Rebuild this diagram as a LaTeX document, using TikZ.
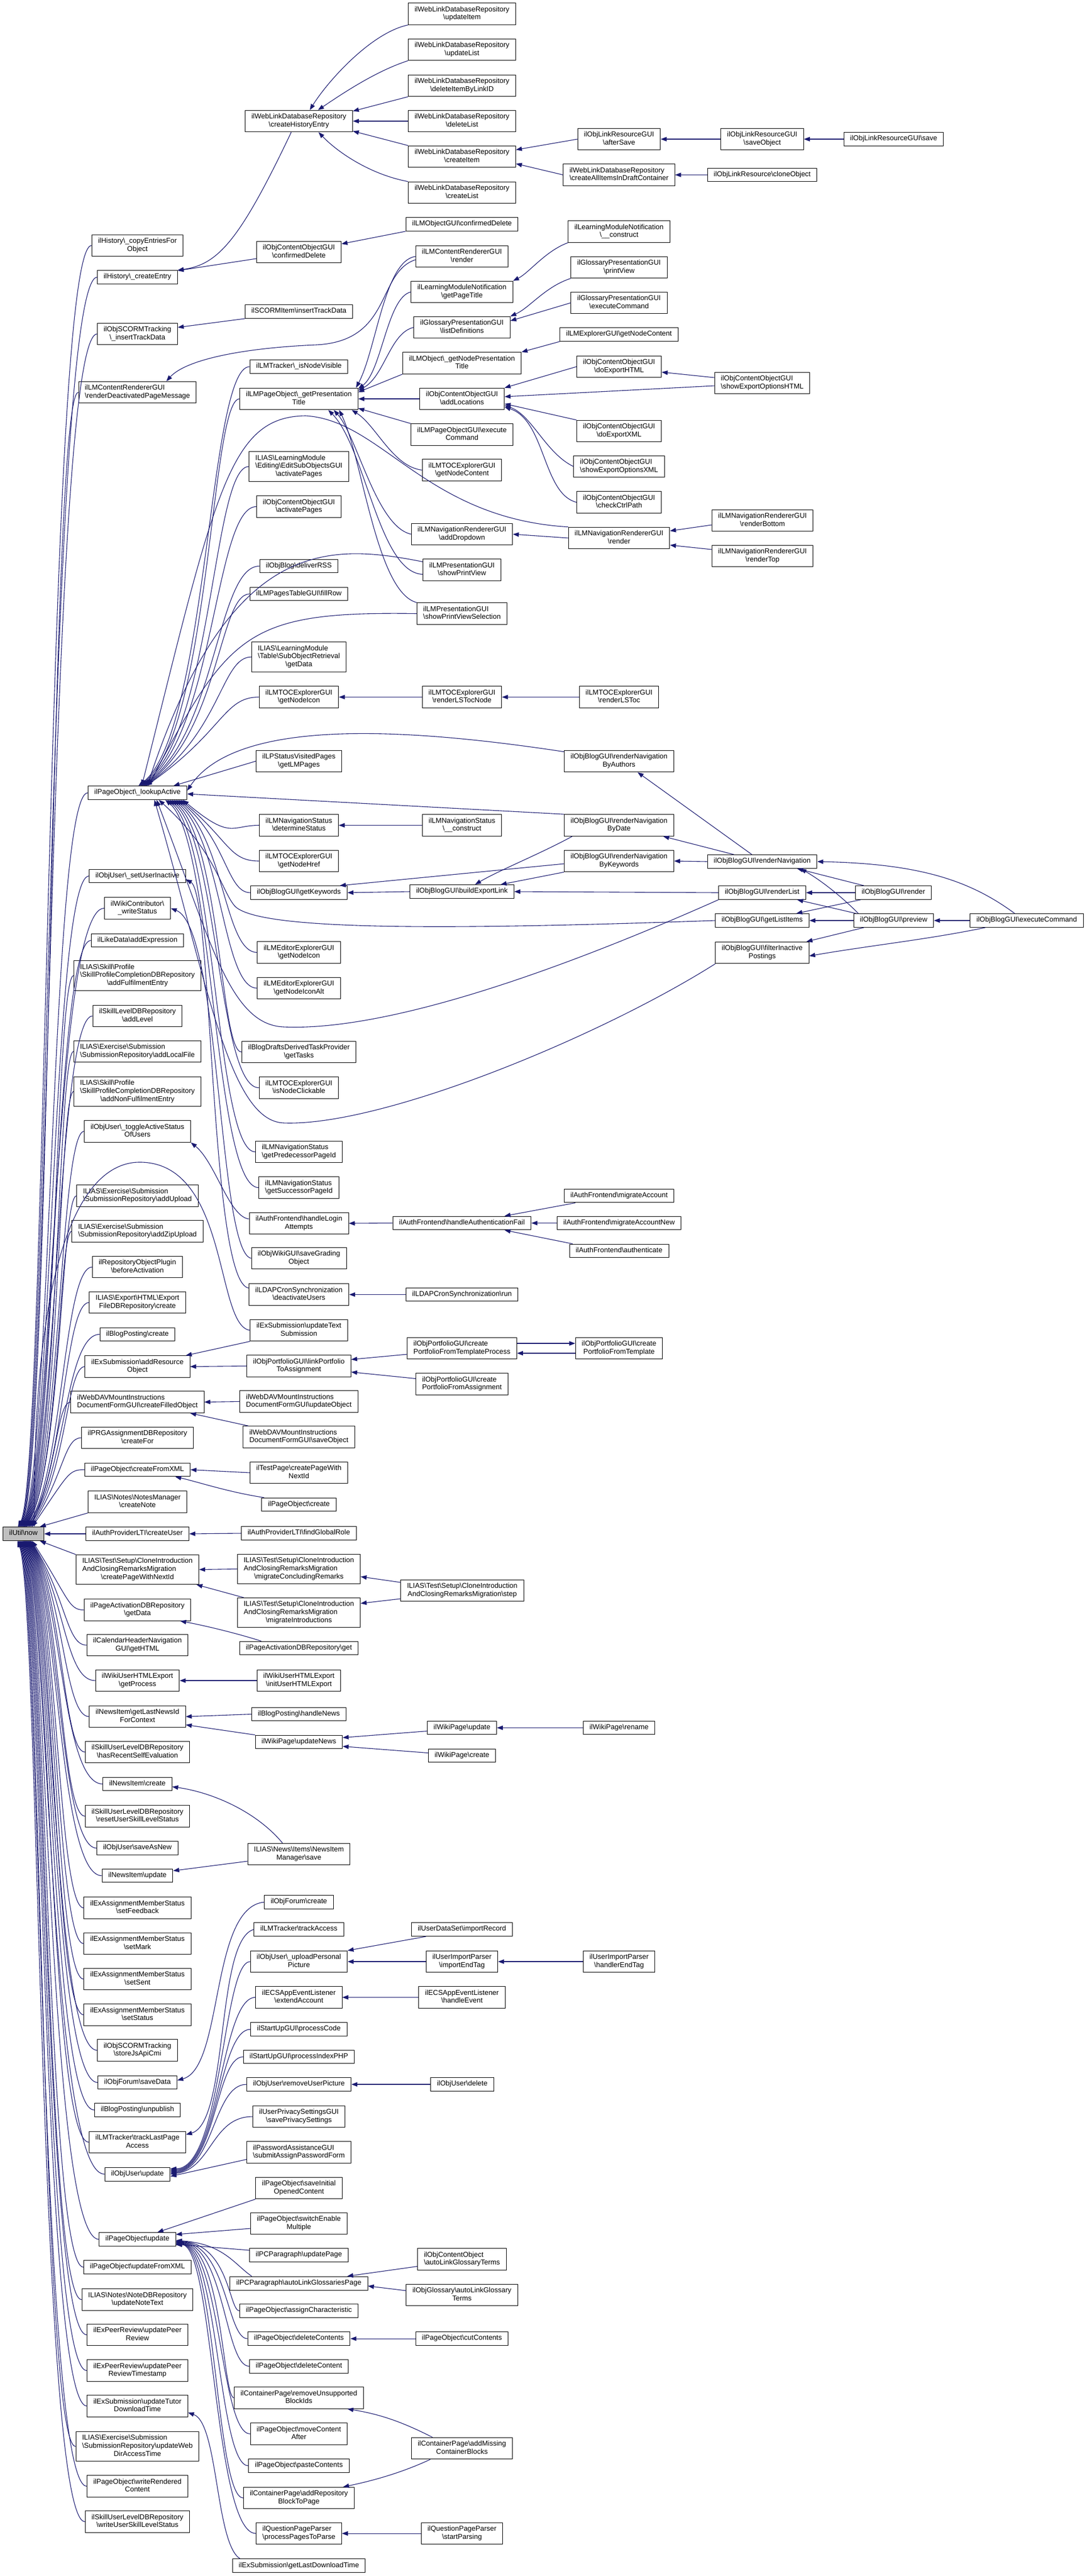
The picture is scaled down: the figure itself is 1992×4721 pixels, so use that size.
\documentclass[tikz,border=0pt]{standalone}
\usepackage{fontspec}
\setmainfont{Liberation Sans}
\usetikzlibrary{arrows.meta,calc}
\definecolor{edgeblue}{RGB}{25,25,112}
\newcommand{\bs}{\textbackslash}
\newcommand{\nm}[1]{\begin{tabular}{@{}c@{}}#1\end{tabular}}
\newcommand{\nml}[2]{\begin{tabular}{@{}l@{}}#1\\\multicolumn{1}{@{}c@{}}{#2}\end{tabular}}

\begin{document}
\begin{tikzpicture}[x=1pt,y=-1pt,>={Triangle[length=11pt,width=8pt]}]
    \tikzset{func/.style={draw=black,fill=white,line width=1pt,inner xsep=11.5pt,inner ysep=5.1pt,font=\fontsize{13}{14.7}\selectfont}}
    \tikzset{focus/.style={func,fill=black!25}}
    \tikzset{call/.style={draw=edgeblue,line width=1.1pt,->}}
    \useasboundingbox (0,0) rectangle (1992,4721);

    % WebLink repository (top)
    \node[func] (updateitem) at (847,25.5) {\nml{ilWebLinkDatabaseRepository}{\bs updateItem}};
    \node[func] (updatelist) at (847,91) {\nml{ilWebLinkDatabaseRepository}{\bs updateList}};
    \node[func] (delbylink) at (847,157) {\nml{ilWebLinkDatabaseRepository}{\bs deleteItemByLinkID}};
    \node[func] (dellist) at (847,222) {\nml{ilWebLinkDatabaseRepository}{\bs deleteList}};
    \node[func] (createitem) at (847,287) {\nml{ilWebLinkDatabaseRepository}{\bs createItem}};
    \node[func] (createlist) at (847,353) {\nml{ilWebLinkDatabaseRepository}{\bs createList}};
    \node[func] (histentry) at (548,222) {\nml{ilWebLinkDatabaseRepository}{\bs createHistoryEntry}};
    \node[func] (aftersave) at (1135,255) {\nml{ilObjLinkResourceGUI}{\bs afterSave}};
    \node[func] (draftitems) at (1135,320.5) {\nml{ilWebLinkDatabaseRepository}{\bs createAllItemsInDraftContainer}};
    \node[func] (saveobj) at (1397.5,255) {\nml{ilObjLinkResourceGUI}{\bs saveObject}};
    \node[func] (cloneobj) at (1397.5,320.5) {\nm{ilObjLinkResource\bs cloneObject}};
    \node[func] (lrsave) at (1638.5,255) {\nm{ilObjLinkResourceGUI\bs save}};

    % History and SCORM
    \node[func] (hcopy) at (252,450) {\nml{ilHistory\bs\_copyEntriesFor}{Object}};
    \node[func] (hentry) at (252,508) {\nm{ilHistory\bs\_createEntry}};
    \node[func] (cocdel) at (548,462) {\nml{ilObjContentObjectGUI}{\bs confirmedDelete}};
    \node[func] (lmodel) at (847,411) {\nm{ilLMObjectGUI\bs confirmedDelete}};
    \node[func] (scormins) at (252,612) {\nml{ilObjSCORMTracking}{\bs\_insertTrackData}};
    \node[func] (scormitem) at (548,571) {\nm{ilSCORMItem\bs insertTrackData}};

    % Presentation titles
    \node[func] (deact) at (252,719) {\nml{ilLMContentRendererGUI}{\bs renderDeactivatedPageMessage}};
    \node[func] (nodevis) at (548,672) {\nm{ilLMTracker\bs\_isNodeVisible}};
    \node[func] (prestitle) at (548,731) {\nml{ilLMPageObject\bs\_getPresentation}{Title}};
    \node[func] (lmrender) at (847,470) {\nml{ilLMContentRendererGUI}{\bs render}};
    \node[func] (pagetitle) at (847,535) {\nml{ilLearningModuleNotification}{\bs getPageTitle}};
    \node[func] (listdefs) at (847,600) {\nml{ilGlossaryPresentationGUI}{\bs listDefinitions}};
    \node[func] (nodetitle) at (847,665.5) {\nml{ilLMObject\bs\_getNodePresentation}{Title}};
    \node[func] (addloc) at (847,731) {\nml{ilObjContentObjectGUI}{\bs addLocations}};
    \node[func] (pgexec) at (847,796.5) {\nml{ilLMPageObjectGUI\bs execute}{Command}};
    \node[func] (tocnode) at (847,861.5) {\nml{ilLMTOCExplorerGUI}{\bs getNodeContent}};
    \node[func] (dropdown) at (847,979) {\nml{ilLMNavigationRendererGUI}{\bs addDropdown}};
    \node[func] (printview) at (847,1044.5) {\nml{ilLMPresentationGUI}{\bs showPrintView}};
    \node[func] (printsel) at (847,1124.5) {\nml{ilLMPresentationGUI}{\bs showPrintViewSelection}};
    \node[func] (notifcons) at (1135,424.5) {\nml{ilLearningModuleNotification}{\bs\_\_construct}};
    \node[func] (printgloss) at (1135,490) {\nml{ilGlossaryPresentationGUI}{\bs printView}};
    \node[func] (glossexec) at (1135,555) {\nml{ilGlossaryPresentationGUI}{\bs executeCommand}};
    \node[func] (explcontent) at (1135,613) {\nm{ilLMExplorerGUI\bs getNodeContent}};
    \node[func] (exphtml) at (1135,672) {\nml{ilObjContentObjectGUI}{\bs doExportHTML}};
    \node[func] (expxml) at (1135,790) {\nml{ilObjContentObjectGUI}{\bs doExportXML}};
    \node[func] (optxml) at (1135,855) {\nml{ilObjContentObjectGUI}{\bs showExportOptionsXML}};
    \node[func] (ctrlpath) at (1135,920.5) {\nml{ilObjContentObjectGUI}{\bs checkCtrlPath}};
    \node[func] (navrender) at (1135,986) {\nml{ilLMNavigationRendererGUI}{\bs render}};
    \node[func] (opthtml) at (1397.5,702) {\nml{ilObjContentObjectGUI}{\bs showExportOptionsHTML}};
    \node[func] (renderbottom) at (1398,954) {\nml{ilLMNavigationRendererGUI}{\bs renderBottom}};
    \node[func] (rendertop) at (1398,1019) {\nml{ilLMNavigationRendererGUI}{\bs renderTop}};

    % lookupActive and its callers
    \node[func] (lookup) at (252,1453) {\nm{ilPageObject\bs\_lookupActive}};
    \node[func] (editact) at (548,855) {\nml{ILIAS\bs LearningModule\\\bs Editing\bs EditSubObjectsGUI}{\bs activatePages}};
    \node[func] (cocact) at (548,928.5) {\nml{ilObjContentObjectGUI}{\bs activatePages}};
    \node[func] (rss) at (548,1037.5) {\nm{ilObjBlog\bs deliverRSS}};
    \node[func] (fillrow) at (548,1088.5) {\nm{ilLMPagesTableGUI\bs fillRow}};
    \node[func] (subdata) at (548,1204) {\nml{ILIAS\bs LearningModule\\\bs Table\bs SubObjectRetrieval}{\bs getData}};
    \node[func] (tocicon) at (548,1277.5) {\nml{ilLMTOCExplorerGUI}{\bs getNodeIcon}};
    \node[func] (lstocnode) at (847,1277.5) {\nml{ilLMTOCExplorerGUI}{\bs renderLSTocNode}};
    \node[func] (lstoc) at (1135,1277.5) {\nml{ilLMTOCExplorerGUI}{\bs renderLSToc}};
    \node[func] (lmpages) at (548,1395) {\nml{ilLPStatusVisitedPages}{\bs getLMPages}};
    \node[func] (detstatus) at (548,1512.5) {\nml{ilLMNavigationStatus}{\bs determineStatus}};
    \node[func] (navcons) at (847,1512.5) {\nml{ilLMNavigationStatus}{\bs\_\_construct}};
    \node[func] (nodehref) at (548,1578) {\nml{ilLMTOCExplorerGUI}{\bs getNodeHref}};
    \node[func] (keywords) at (548,1636) {\nm{ilObjBlogGUI\bs getKeywords}};
    \node[func] (exportlink) at (847,1634) {\nm{ilObjBlogGUI\bs buildExportLink}};
    \node[func] (edicon) at (548,1745.5) {\nml{ilLMEditorExplorerGUI}{\bs getNodeIcon}};
    \node[func] (ediconalt) at (548,1811) {\nml{ilLMEditorExplorerGUI}{\bs getNodeIconAlt}};
    \node[func] (gettasks) at (548,1928) {\nml{ilBlogDraftsDerivedTaskProvider}{\bs getTasks}};
    \node[func] (clickable) at (548,1993.5) {\nml{ilLMTOCExplorerGUI}{\bs isNodeClickable}};
    \node[func] (predid) at (548,2111) {\nml{ilLMNavigationStatus}{\bs getPredecessorPageId}};
    \node[func] (succid) at (548,2176.5) {\nml{ilLMNavigationStatus}{\bs getSuccessorPageId}};

    % Blog
    \node[func] (byauthors) at (1135,1395) {\nml{ilObjBlogGUI\bs renderNavigation}{ByAuthors}};
    \node[func] (bydate) at (1135,1512.5) {\nml{ilObjBlogGUI\bs renderNavigation}{ByDate}};
    \node[func] (bykeywords) at (1135,1578) {\nml{ilObjBlogGUI\bs renderNavigation}{ByKeywords}};
    \node[func] (blognav) at (1397.5,1579) {\nm{ilObjBlogGUI\bs renderNavigation}};
    \node[func] (renderlist) at (1397.5,1636) {\nm{ilObjBlogGUI\bs renderList}};
    \node[func] (listitems) at (1397.5,1687) {\nm{ilObjBlogGUI\bs getListItems}};
    \node[func] (filterinact) at (1397.5,1746) {\nml{ilObjBlogGUI\bs filterInactive}{Postings}};
    \node[func] (blogrender) at (1638,1636) {\nm{ilObjBlogGUI\bs render}};
    \node[func] (preview) at (1638.5,1687) {\nm{ilObjBlogGUI\bs preview}};
    \node[func] (blogexec) at (1882.5,1687) {\nm{ilObjBlogGUI\bs executeCommand}};

    % Users, skills, exercise
    \node[func] (setinact) at (252,1605.5) {\nm{ilObjUser\bs\_setUserInactive}};
    \node[func] (wstatus) at (252,1664.5) {\nml{ilWikiContributor\bs}{\_writeStatus}};
    \node[func] (likeexp) at (252,1723.5) {\nm{ilLikeData\bs addExpression}};
    \node[func] (fulfil) at (252,1788) {\nml{ILIAS\bs Skill\bs Profile\\\bs SkillProfileCompletionDBRepository}{\bs addFulfilmentEntry}};
    \node[func] (addlevel) at (252,1862) {\nml{ilSkillLevelDBRepository}{\bs addLevel}};
    \node[func] (addlocal) at (252,1927) {\nml{ILIAS\bs Exercise\bs Submission}{\bs SubmissionRepository\bs addLocalFile}};
    \node[func] (nonfulfil) at (252,2000.5) {\nml{ILIAS\bs Skill\bs Profile\\\bs SkillProfileCompletionDBRepository}{\bs addNonFulfilmentEntry}};
    \node[func] (toggle) at (252,2073.5) {\nml{ilObjUser\bs\_toggleActiveStatus}{OfUsers}};
    \node[func] (addupload) at (252,2191.5) {\nml{ILIAS\bs Exercise\bs Submission}{\bs SubmissionRepository\bs addUpload}};
    \node[func] (addzip) at (252,2256.5) {\nml{ILIAS\bs Exercise\bs Submission}{\bs SubmissionRepository\bs addZipUpload}};
    \node[func] (loginatt) at (548,2242) {\nml{ilAuthFrontend\bs handleLogin}{Attempts}};
    \node[func] (authfail) at (847,2241.5) {\nm{ilAuthFrontend\bs handleAuthenticationFail}};
    \node[func] (migacc) at (1135,2191.5) {\nm{ilAuthFrontend\bs migrateAccount}};
    \node[func] (migaccnew) at (1135,2241.5) {\nm{ilAuthFrontend\bs migrateAccountNew}};
    \node[func] (authn) at (1135,2292.5) {\nm{ilAuthFrontend\bs authenticate}};
    \node[func] (grading) at (548,2306) {\nml{ilObjWikiGUI\bs saveGrading}{Object}};
    \node[func] (beforeact) at (252,2322) {\nml{ilRepositoryObjectPlugin}{\bs beforeActivation}};
    \node[func] (deactusers) at (548,2372.5) {\nml{ilLDAPCronSynchronization}{\bs deactivateUsers}};
    \node[func] (ldaprun) at (847,2372.5) {\nm{ilLDAPCronSynchronization\bs run}};
    \node[func] (expcreate) at (252,2387) {\nml{ILIAS\bs Export\bs HTML\bs Export}{FileDBRepository\bs create}};
    \node[func] (bpcreate) at (252,2445.5) {\nm{ilBlogPosting\bs create}};
    \node[func] (textsub) at (548,2438) {\nml{ilExSubmission\bs updateText}{Submission}};
    \node[func] (addres) at (252,2504.5) {\nml{ilExSubmission\bs addResource}{Object}};
    \node[func] (linkport) at (548,2503.5) {\nml{ilObjPortfolioGUI\bs linkPortfolio}{ToAssignment}};
    \node[func] (tplproc) at (847,2471) {\nml{ilObjPortfolioGUI\bs create}{PortfolioFromTemplateProcess}};
    \node[func] (fromassign) at (847,2536.5) {\nml{ilObjPortfolioGUI\bs create}{PortfolioFromAssignment}};
    \node[func] (fromtpl) at (1135,2471) {\nml{ilObjPortfolioGUI\bs create}{PortfolioFromTemplate}};
    \node[func] (filled) at (252,2569.5) {\nml{ilWebDAVMountInstructions}{DocumentFormGUI\bs createFilledObject}};
    \node[func] (davupdate) at (548,2568.5) {\nml{ilWebDAVMountInstructions}{DocumentFormGUI\bs updateObject}};
    \node[func] (davsave) at (548,2633.5) {\nml{ilWebDAVMountInstructions}{DocumentFormGUI\bs saveObject}};
    \node[func] (createfor) at (252,2635) {\nml{ilPRGAssignmentDBRepository}{\bs createFor}};
    \node[func] (fromxml) at (252,2693.5) {\nm{ilPageObject\bs createFromXML}};
    \node[func] (testpage) at (548,2699) {\nml{ilTestPage\bs createPageWith}{NextId}};
    \node[func] (createnote) at (252,2752.5) {\nml{ILIAS\bs Notes\bs NotesManager}{\bs createNote}};
    \node[func] (pocreate) at (548,2757.5) {\nm{ilPageObject\bs create}};

    % The function itself
    \node[focus] (now) at (43,2811) {\nm{ilUtil\bs now}};

    \node[func] (ltiuser) at (252,2811) {\nm{ilAuthProviderLTI\bs createUser}};
    \node[func] (findrole) at (548,2810) {\nm{ilAuthProviderLTI\bs findGlobalRole}};
    \node[func] (clonepage) at (252,2876.5) {\nml{ILIAS\bs Test\bs Setup\bs CloneIntroduction\\AndClosingRemarksMigration}{\bs createPageWithNextId}};
    \node[func] (migconc) at (548,2875.5) {\nml{ILIAS\bs Test\bs Setup\bs CloneIntroduction\\AndClosingRemarksMigration}{\bs migrateConcludingRemarks}};
    \node[func] (migintro) at (548,2955.5) {\nml{ILIAS\bs Test\bs Setup\bs CloneIntroduction\\AndClosingRemarksMigration}{\bs migrateIntroductions}};
    \node[func] (stepmig) at (847.5,2915) {\nml{ILIAS\bs Test\bs Setup\bs CloneIntroduction}{AndClosingRemarksMigration\bs step}};
    \node[func] (pagdata) at (252,2950.5) {\nml{ilPageActivationDBRepository}{\bs getData}};
    \node[func] (pagget) at (548,3020.5) {\nm{ilPageActivationDBRepository\bs get}};
    \node[func] (calhtml) at (252,3015) {\nml{ilCalendarHeaderNavigation}{GUI\bs getHTML}};
    \node[func] (wikiproc) at (252,3080) {\nml{ilWikiUserHTMLExport}{\bs getProcess}};
    \node[func] (inithtml) at (548,3080) {\nml{ilWikiUserHTMLExport}{\bs initUserHTMLExport}};

    % News and wiki
    \node[func] (newsids) at (252,3146) {\nml{ilNewsItem\bs getLastNewsId}{ForContext}};
    \node[func] (handlenews) at (548,3141.5) {\nm{ilBlogPosting\bs handleNews}};
    \node[func] (updnews) at (548,3192.5) {\nm{ilWikiPage\bs updateNews}};
    \node[func] (wupdate) at (847,3166.5) {\nm{ilWikiPage\bs update}};
    \node[func] (wcreate) at (847,3217.5) {\nm{ilWikiPage\bs create}};
    \node[func] (wrename) at (1135,3166.5) {\nm{ilWikiPage\bs rename}};
    \node[func] (recentself) at (252,3211) {\nml{ilSkillUserLevelDBRepository}{\bs hasRecentSelfEvaluation}};
    \node[func] (newscreate) at (252,3269.5) {\nm{ilNewsItem\bs create}};
    \node[func] (resetlevel) at (252,3328.5) {\nml{ilSkillUserLevelDBRepository}{\bs resetUserSkillLevelStatus}};
    \node[func] (usersave) at (252,3387) {\nm{ilObjUser\bs saveAsNew}};
    \node[func] (nmsave) at (548,3398) {\nml{ILIAS\bs News\bs Items\bs NewsItem}{Manager\bs save}};
    \node[func] (newsupdate) at (252,3437.5) {\nm{ilNewsItem\bs update}};
    \node[func] (setfeedback) at (252,3496.5) {\nml{ilExAssignmentMemberStatus}{\bs setFeedback}};
    \node[func] (setmark) at (252,3562) {\nml{ilExAssignmentMemberStatus}{\bs setMark}};
    \node[func] (setsent) at (252,3627) {\nml{ilExAssignmentMemberStatus}{\bs setSent}};
    \node[func] (setstatus) at (252,3692.5) {\nml{ilExAssignmentMemberStatus}{\bs setStatus}};
    \node[func] (storecmi) at (252,3757.5) {\nml{ilObjSCORMTracking}{\bs storeJsApiCmi}};
    \node[func] (forumsave) at (252,3816.5) {\nm{ilObjForum\bs saveData}};
    \node[func] (unpublish) at (252,3867) {\nm{ilBlogPosting\bs unpublish}};
    \node[func] (tracklast) at (252,3926) {\nml{ilLMTracker\bs trackLastPage}{Access}};
    \node[func] (userupdate) at (252,3984.5) {\nm{ilObjUser\bs update}};
    \node[func] (forumcreate) at (548,3486) {\nm{ilObjForum\bs create}};
    \node[func] (trackacc) at (548,3536) {\nm{ilLMTracker\bs trackAccess}};
    \node[func] (importrec) at (847,3536) {\nm{ilUserDataSet\bs importRecord}};
    \node[func] (uploadpic) at (548,3595) {\nml{ilObjUser\bs\_uploadPersonal}{Picture}};
    \node[func] (importend) at (847,3595) {\nml{ilUserImportParser}{\bs importEndTag}};
    \node[func] (handlerend) at (1135,3595) {\nml{ilUserImportParser}{\bs handlerEndTag}};
    \node[func] (extacc) at (548,3660.5) {\nml{ilECSAppEventListener}{\bs extendAccount}};
    \node[func] (ecsevent) at (847,3660.5) {\nml{ilECSAppEventListener}{\bs handleEvent}};
    \node[func] (proccode) at (548,3719) {\nm{ilStartUpGUI\bs processCode}};
    \node[func] (procindex) at (548,3769.5) {\nm{ilStartUpGUI\bs processIndexPHP}};
    \node[func] (rmpic) at (548,3820) {\nm{ilObjUser\bs removeUserPicture}};
    \node[func] (userdel) at (847.5,3820) {\nm{ilObjUser\bs delete}};
    \node[func] (privacy) at (548,3879) {\nml{ilUserPrivacySettingsGUI}{\bs savePrivacySettings}};
    \node[func] (passwd) at (548,3944.5) {\nml{ilPasswordAssistanceGUI}{\bs submitAssignPasswordForm}};

    % Page object update (bottom)
    \node[func] (pageupdate) at (252,4104) {\nm{ilPageObject\bs update}};
    \node[func] (fromxmlup) at (252,4155) {\nm{ilPageObject\bs updateFromXML}};
    \node[func] (notetext) at (252,4214.5) {\nml{ILIAS\bs Notes\bs NoteDBRepository}{\bs updateNoteText}};
    \node[func] (peerrev) at (252,4279) {\nml{ilExPeerReview\bs updatePeer}{Review}};
    \node[func] (peerts) at (252,4344.5) {\nml{ilExPeerReview\bs updatePeer}{ReviewTimestamp}};
    \node[func] (tutordl) at (252,4409.5) {\nml{ilExSubmission\bs updateTutor}{DownloadTime}};
    \node[func] (webdav) at (252,4483.5) {\nml{ILIAS\bs Exercise\bs Submission\\\bs SubmissionRepository\bs updateWeb}{DirAccessTime}};
    \node[func] (rendered) at (252,4556.5) {\nml{ilPageObject\bs writeRendered}{Content}};
    \node[func] (writelevel) at (252,4621.5) {\nml{ilSkillUserLevelDBRepository}{\bs writeUserSkillLevelStatus}};
    \node[func] (initcont) at (548,4010) {\nml{ilPageObject\bs saveInitial}{OpenedContent}};
    \node[func] (switchmul) at (548,4075) {\nml{ilPageObject\bs switchEnable}{Multiple}};
    \node[func] (pcupdate) at (548,4133) {\nm{ilPCParagraph\bs updatePage}};
    \node[func] (autolink) at (548,4184.5) {\nm{ilPCParagraph\bs autoLinkGlossariesPage}};
    \node[func] (assignchar) at (548,4235) {\nm{ilPageObject\bs assignCharacteristic}};
    \node[func] (delconts) at (548,4286) {\nm{ilPageObject\bs deleteContents}};
    \node[func] (delcont) at (548,4336.5) {\nm{ilPageObject\bs deleteContent}};
    \node[func] (rmblocks) at (548,4394.5) {\nml{ilContainerPage\bs removeUnsupported}{BlockIds}};
    \node[func] (movecont) at (548,4460.5) {\nml{ilPageObject\bs moveContent}{After}};
    \node[func] (paste) at (548,4519) {\nm{ilPageObject\bs pasteContents}};
    \node[func] (addrepo) at (548,4578) {\nml{ilContainerPage\bs addRepository}{BlockToPage}};
    \node[func] (procpages) at (548,4643) {\nml{ilQuestionPageParser}{\bs processPagesToParse}};
    \node[func] (lastdl) at (548,4702) {\nm{ilExSubmission\bs getLastDownloadTime}};
    \node[func] (linkterms) at (847,4140.5) {\nml{ilObjContentObject}{\bs autoLinkGlossaryTerms}};
    \node[func] (glossterms) at (847,4206) {\nml{ilObjGlossary\bs autoLinkGlossary}{Terms}};
    \node[func] (cutconts) at (847,4286) {\nm{ilPageObject\bs cutContents}};
    \node[func] (addmissing) at (847,4487) {\nml{ilContainerPage\bs addMissing}{ContainerBlocks}};
    \node[func] (startparse) at (847,4643) {\nml{ilQuestionPageParser}{\bs startParsing}};

    % Calls into ilUtil\now
    \foreach \s/\xv/\tx in {hcopy/86/-10, hentry/88/-9, scormins/90/-8, deact/92/-7, lookup/94/-6, setinact/96/-5, wstatus/98/-4, likeexp/100/-3, fulfil/102/-2, addlevel/104/-1, addlocal/106/0, nonfulfil/108/1, toggle/110/2, addupload/112/3, addzip/108/4, beforeact/116/5, expcreate/118/6, bpcreate/120/8, addres/122/10, filled/104/12, createfor/118/14, fromxml/126/16}
      \draw[call] (\s.west) .. controls (\s.west -| \xv,0) and (\xv,2700) .. ([xshift=\tx]now.north);
    \foreach \s/\xv/\tx in {pagdata/126/16, calhtml/122/14, wikiproc/120/13, newsids/118/12, recentself/116/11, newscreate/114/10, resetlevel/112/9, usersave/110/8, newsupdate/108/7, setfeedback/106/6, setmark/104/5, setsent/102/4, setstatus/100/3, storecmi/98/2, forumsave/96/1, unpublish/94/0, tracklast/92/-1, userupdate/90/-2, pageupdate/88/-3, fromxmlup/86/-4, notetext/84/-5, peerrev/82/-6, peerts/80/-7, tutordl/78/-8, webdav/76/-9, rendered/74/-10, writelevel/72/-11}
      \draw[call] (\s.west) .. controls (\s.west -| \xv,0) and (\xv,2930) .. ([xshift=\tx]now.south);
    \draw[call] (createnote.south west) -- ([xshift=-8pt]now.north east);
    \draw[call] (ltiuser.west) -- (now.east);
    \draw[call] (clonepage.north west) -- ([xshift=-8pt]now.south east);
    \draw[call] (textsub.west) .. controls (395,2430) and (420,2135) .. (260,2130) .. controls (150,2126) and (60,2300) .. ([xshift=20pt]now.north);

    % Calls into lookupActive
    \foreach \s/\xv/\tx in {nodevis/382/2, prestitle/386/4, editact/390/6, cocact/394/8, rss/398/10, fillrow/402/12, subdata/406/14, tocicon/410/16}
      \draw[call] (\s.west) .. controls (\s.west -| \xv,0) and (\xv,1340) .. ([xshift=\tx]lookup.north);
    \foreach \s/\xv/\tx in {detstatus/424/-8, nodehref/420/-12, keywords/416/-16, edicon/412/-20, ediconalt/408/-24, gettasks/404/-28, clickable/400/-32, predid/396/-36, succid/392/-40}
      \draw[call] (\s.west) .. controls (\s.west -| \xv,0) and (\xv,1540) .. ([xshift=\tx]lookup.south east);
    \draw[call] (lmpages.west) -- ([xshift=-25pt]lookup.north east);
    \draw[call] ([yshift=15pt]printview.west) .. controls (600,995) and (420,985) .. ([xshift=18pt]lookup.north);
    \draw[call] (printsel.west) .. controls (450,1120) and (420,1160) .. ([xshift=20pt]lookup.north);
    \draw[call] ([yshift=-3pt]byauthors.north west) .. controls (720,1330) and (430,1320) .. ([yshift=4pt]lookup.east);
    \draw[call] (bydate.north west) -- ([yshift=-2pt]lookup.east);
    \draw[call] (navrender.north west) .. controls (780,950) and (700,770) .. (560,762) .. controls (420,764) and (395,900) .. ([xshift=8pt]lookup.north);
    \draw[call] (listitems.west) .. controls (800,1705) and (470,1705) .. (430,1660) .. controls (405,1630) and (395,1560) .. ([xshift=-52pt]lookup.south east);
    \draw[call] (renderlist.south west) .. controls (1000,1790) and (700,1890) .. (520,1882) .. controls (420,1878) and (385,1720) .. ([xshift=-56pt]lookup.south east);
    \draw[call] (filterinact.south west) .. controls (1100,1900) and (700,2065) .. (520,2058) .. controls (420,2054) and (380,1800) .. ([xshift=-60pt]lookup.south east);

    % Calls into getPresentationTitle and addLocations
    \draw[call] (lmrender.west) .. controls (705,478) and (690,640) .. ([xshift=-4pt]prestitle.north east);
    \draw[call] (pagetitle.west) .. controls (710,545) and (700,680) .. ([yshift=-2pt]prestitle.north east);
    \draw[call] (listdefs.west) .. controls (715,610) and (705,690) .. ([yshift=-5pt]prestitle.north east);
    \draw[call] (nodetitle.south west) -- ([yshift=-8pt]prestitle.north east);
    \draw[call] (addloc.west) -- (prestitle.east);
    \draw[call] (pgexec.north west) -- ([yshift=3pt]prestitle.south east);
    \draw[call] (tocnode.west) .. controls (720,855) and (690,780) .. ([xshift=-12pt]prestitle.south east);
    \draw[call] (dropdown.west) .. controls (690,965) and (655,800) .. ([xshift=-45pt]prestitle.south east);
    \draw[call] ([yshift=-8pt]printview.west) .. controls (695,1050) and (670,820) .. ([xshift=-55pt]prestitle.south east);
    \draw[call] (printsel.north west) .. controls (690,1085) and (665,840) .. ([xshift=-35pt]prestitle.south east);
    \draw[call] (exphtml.west) -- (addloc.north east);
    \draw[call] ([yshift=-5pt]opthtml.west) -- ([yshift=4pt]addloc.east);
    \draw[call] ([yshift=10pt]opthtml.west) -- ([yshift=-10pt]exphtml.east);
    \draw[call] (expxml.north west) -- ([yshift=-9pt]addloc.east);
    \draw[call] (optxml.west) .. controls (1000,830) and (975,760) .. ([yshift=-12pt]addloc.east);
    \draw[call] (ctrlpath.west) .. controls (995,905) and (1000,770) .. ([yshift=-15pt]addloc.east);
    \draw[call] (navrender.west) -- (dropdown.east);
    \draw[call] ([yshift=-8pt]renderbottom.west) -- ([yshift=13pt]navrender.east);
    \draw[call] ([yshift=12pt]rendertop.west) -- ([yshift=-13pt]navrender.east);
    \draw[call] (notifcons.south west) .. controls (1000,460) and (970,500) .. (pagetitle.north east);
    \draw[call] (printgloss.south west) .. controls (1000,525) and (970,565) .. (listdefs.north east);
    \draw[call] (glossexec.west) -- ([yshift=12pt]listdefs.east);
    \draw[call] (explcontent.south west) -- (nodetitle.north east);
    \draw[call] ([yshift=-6pt]lmrender.west) .. controls (690,500) and (720,625) .. (580,632) .. controls (440,638) and (340,660) .. ([xshift=53pt]deact.north);

    % WebLink, history, SCORM
    \draw[call] (updateitem.south west) .. controls (680,60) and (600,150) .. ([xshift=20pt]histentry.north);
    \draw[call] (updatelist.south west) .. controls (690,130) and (630,170) .. ([xshift=35pt]histentry.north);
    \draw[call] (delbylink.south west) -- ([yshift=-2pt]histentry.north east);
    \draw[call] (dellist.west) -- (histentry.east);
    \draw[call] (createitem.north west) -- ([yshift=2pt]histentry.south east);
    \draw[call] (createlist.north west) .. controls (680,320) and (620,280) .. ([xshift=36pt]histentry.south);
    \draw[call] (aftersave.west) -- ([yshift=12.5pt]createitem.east);
    \draw[call] (draftitems.west) -- ([yshift=-13pt]createitem.east);
    \draw[call] (saveobj.west) -- (aftersave.east);
    \draw[call] (lrsave.west) -- (saveobj.east);
    \draw[call] (cloneobj.west) -- (draftitems.east);
    \draw[call] (lmodel.south west) -- ([yshift=15pt]cocdel.east);
    \draw[call] ([yshift=-12pt]cocdel.west) -- ([yshift=12pt]hentry.east);
    \draw[call] ([xshift=-14pt]histentry.south) .. controls (440,440) and (400,485) .. (hentry.north east);
    \draw[call] (scormitem.south west) -- ([yshift=12pt]scormins.east);

    % TOC, navigation, blog
    \draw[call] (lstocnode.west) -- (tocicon.east);
    \draw[call] (lstoc.west) -- (lstocnode.east);
    \draw[call] (navcons.west) -- (detstatus.east);
    \draw[call] (exportlink.west) -- (keywords.east);
    \draw[call] ([yshift=-5pt]bykeywords.west) -- ([xshift=-14pt]keywords.north east);
    \draw[call] (bykeywords.south west) -- ([xshift=-25pt]exportlink.north east);
    \draw[call] ([xshift=15pt]bydate.south west) .. controls (990,1565) and (915,1595) .. ([xshift=24pt]exportlink.north);
    \draw[call] (renderlist.west) -- (exportlink.east);
    \draw[call] ([xshift=-19pt]blognav.north) -- ([xshift=34pt]byauthors.south);
    \draw[call] ([xshift=-52pt]blognav.north) -- ([xshift=-20pt]bydate.south east);
    \draw[call] (blognav.west) -- (bykeywords.east);
    \draw[call] ([xshift=16pt]blogrender.north west) -- ([xshift=64pt]blognav.south);
    \draw[call] (blogrender.west) -- (renderlist.east);
    \draw[call] ([xshift=10pt]blogrender.south west) -- ([xshift=-24pt]listitems.north east);
    \draw[call] ([xshift=9pt]preview.north west) .. controls (1540,1640) and (1500,1610) .. ([xshift=70pt]blognav.south);
    \draw[call] ([xshift=5pt]preview.north west) -- ([xshift=64pt]renderlist.south);
    \draw[call] (preview.west) -- (listitems.east);
    \draw[call] ([xshift=19pt]preview.south west) -- ([xshift=-5pt]filterinact.north east);
    \draw[call] (blogexec.west) -- (preview.east);
    \draw[call] ([xshift=-22pt]blogexec.north) .. controls (1780,1615) and (1690,1583) .. (blognav.east);
    \draw[call] ([xshift=28pt]blogexec.south west) .. controls (1700,1722) and (1600,1732) .. ([yshift=-6pt]filterinact.east);

    % Auth, wiki grading, LDAP
    \draw[call] ([yshift=8pt]loginatt.west) .. controls (420,2230) and (395,2130) .. (toggle.south east);
    \draw[call] (authfail.west) -- (loginatt.east);
    \draw[call] ([xshift=-80pt]migacc.south) -- ([xshift=78pt]authfail.north);
    \draw[call] (migaccnew.west) -- (authfail.east);
    \draw[call] ([xshift=-85pt]authn.north) -- ([xshift=78pt]authfail.south);
    \draw[call] (grading.west) .. controls (400,2295) and (405,1700) .. (wstatus.east);
    \draw[call] ([yshift=12pt]deactusers.west) .. controls (385,2350) and (390,1640) .. ([yshift=-6pt]setinact.east);
    \draw[call] (ldaprun.west) -- (deactusers.east);

    % Exercise, portfolio, WebDAV, pages, test setup
    \draw[call] (textsub.south west) -- ([xshift=-8pt]addres.north east);
    \draw[call] (linkport.west) -- (addres.east);
    \draw[call] ([yshift=-11pt]tplproc.west) -- ([yshift=12pt]linkport.east);
    \draw[call] ([yshift=10pt]fromassign.west) -- ([yshift=-11pt]linkport.east);
    \draw[call] ([yshift=9pt]tplproc.east) -- ([yshift=9pt]fromtpl.west);
    \draw[call] ([yshift=-9pt]fromtpl.west) -- ([yshift=-9pt]tplproc.east);
    \draw[call] (davupdate.west) -- (filled.east);
    \draw[call] ([xshift=10pt]davsave.north west) -- ([xshift=-26pt]filled.south east);
    \draw[call] (testpage.west) -- (fromxml.east);
    \draw[call] ([xshift=5pt]pocreate.north west) .. controls (420,2735) and (360,2715) .. ([xshift=-28pt]fromxml.south east);
    \draw[call] (findrole.west) -- (ltiuser.east);
    \draw[call] (migconc.west) -- (clonepage.east);
    \draw[call] ([xshift=12pt]migintro.north west) -- ([xshift=-5pt]clonepage.south east);
    \draw[call] ([yshift=15pt]stepmig.west) -- ([yshift=-14pt]migconc.east);
    \draw[call] ([yshift=-15pt]stepmig.west) -- ([yshift=17pt]migintro.east);
    \draw[call] ([xshift=40pt]pagget.north west) .. controls (440,2995) and (380,2980) .. ([xshift=-20pt]pagdata.south east);
    \draw[call] (inithtml.west) -- (wikiproc.east);

    % News
    \draw[call] (handlenews.west) -- (newsids.east);
    \draw[call] (updnews.north west) -- ([yshift=-15pt]newsids.east);
    \draw[call] ([yshift=-6pt]wupdate.west) -- ([yshift=8pt]updnews.east);
    \draw[call] ([yshift=5pt]wcreate.west) -- ([yshift=-8pt]updnews.east);
    \draw[call] (wrename.west) -- (wupdate.east);
    \draw[call] ([xshift=-30pt]nmsave.north) .. controls (470,3320) and (390,3285) .. ([yshift=-5pt]newscreate.east);
    \draw[call] ([yshift=-13pt]nmsave.west) -- ([yshift=9pt]newsupdate.east);

    % Forum, tracker, user update
    \draw[call] (forumcreate.west) .. controls (385,3495) and (410,3790) .. ([yshift=4pt]forumsave.east);
    \draw[call] (trackacc.west) .. controls (395,3555) and (420,3890) .. ([yshift=14pt]tracklast.east);
    \foreach \s/\xv/\ty in {uploadpic/408/10, extacc/404/8, proccode/400/6, procindex/396/4, rmpic/392/2, privacy/388/0}
      \draw[call] (\s.west) .. controls (\s.west -| \xv,0) and (\xv,3975) .. ([yshift=\ty]userupdate.east);
    \draw[call] ([yshift=-13pt]passwd.west) -- ([yshift=-4pt]userupdate.east);
    \draw[call] ([xshift=27pt]importrec.south west) -- (uploadpic.north east);
    \draw[call] (importend.west) -- (uploadpic.east);
    \draw[call] (handlerend.west) -- (importend.east);
    \draw[call] (ecsevent.west) -- (extacc.east);
    \draw[call] (userdel.west) -- (rmpic.east);

    % Page object update
    \draw[call] (initcont.south west) -- ([xshift=-34pt]pageupdate.north east);
    \draw[call] ([yshift=-9pt]switchmul.west) -- ([yshift=9pt]pageupdate.east);
    \draw[call] ([yshift=9pt]pcupdate.west) -- ([yshift=-9pt]pageupdate.east);
    \draw[call] ([xshift=40pt]autolink.north west) .. controls (430,4150) and (410,4112) .. ([yshift=-2pt]pageupdate.east);
    \foreach \s/\xv/\ty in {assignchar/420/-3, delconts/416/-4, delcont/412/-5, rmblocks/408/-6, movecont/404/-7, paste/400/-8, addrepo/396/-9, procpages/392/-10}
      \draw[call] (\s.west) .. controls (\s.west -| \xv,0) and (\xv,4112) .. ([yshift=\ty]pageupdate.east);
    \draw[call] ([yshift=-13pt]linkterms.west) -- ([xshift=-38pt]autolink.north east);
    \draw[call] ([yshift=8pt]glossterms.west) -- ([yshift=-5pt]autolink.east);
    \draw[call] (cutconts.west) -- (delconts.east);
    \draw[call] ([xshift=-54pt]addmissing.north) .. controls (740,4440) and (700,4425) .. ([xshift=-30pt]rmblocks.south east);
    \draw[call] ([xshift=-58pt]addmissing.south) .. controls (740,4530) and (690,4545) .. ([xshift=-21pt]addrepo.north east);
    \draw[call] (startparse.west) -- (procpages.east);
    \draw[call] ([xshift=14pt]lastdl.north west) .. controls (395,4660) and (400,4440) .. ([yshift=-12pt]tutordl.east);
\end{tikzpicture}
\end{document}
